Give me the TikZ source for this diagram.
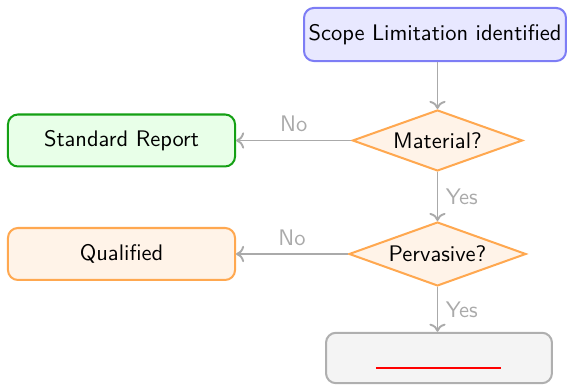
\documentclass[tikz,border=0pt]{standalone}
\usetikzlibrary{shapes.geometric,arrows.meta}
\definecolor{bluefill}{RGB}{232,232,255}
\definecolor{blueline}{RGB}{125,125,245}
\definecolor{greenfill}{RGB}{232,255,232}
\definecolor{greenline}{RGB}{20,160,20}
\definecolor{orfill}{RGB}{255,243,232}
\definecolor{orline}{RGB}{255,168,80}
\definecolor{grfill}{RGB}{244,244,244}
\definecolor{grline}{RGB}{175,175,175}
\definecolor{edgecol}{RGB}{170,170,170}
\definecolor{redline}{RGB}{255,0,0}
\begin{document}
\begin{tikzpicture}[x=0.4444pt,y=-0.4444pt,font=\sffamily,
  boxnode/.style={draw, rounded corners=4.4pt, line width=0.9pt, align=center},
  decnode/.style={diamond, draw=orline, fill=orfill, line width=0.9pt, inner sep=0pt, aspect=2.8},
  conn/.style={draw=edgecol, line width=0.85pt, -{Computer Modern Rightarrow[length=3.6pt,width=7.2pt]}},
  elabel/.style={text=edgecol}]
\useasboundingbox (0,0) rectangle (572,385);
\node[boxnode, draw=blueline, fill=bluefill, inner xsep=1.5pt, minimum width=116.4pt, minimum height=23.6pt] (scope) at (435,34.5) {Scope Limitation identified};
\node[decnode, minimum width=75.6pt, minimum height=27.1pt] (mat) at (437.5,140.5) {Material?};
\node[boxnode, draw=greenline, fill=greenfill, minimum width=100.9pt, minimum height=23.1pt] (std) at (121.5,140.5) {Standard Report};
\node[decnode, minimum width=78.7pt, minimum height=28.4pt] (perv) at (437.5,254) {Pervasive?};
\node[boxnode, draw=orline, fill=orfill, minimum width=100.9pt, minimum height=23.1pt] (qual) at (121.5,254) {Qualified};
\node[boxnode, draw=grline, fill=grfill, minimum width=100.4pt, minimum height=22.4pt] (res) at (439,358) {};
\draw[redline, line width=0.6pt] ([shift={(-63,10)}]res.center) -- ([shift={(62,10)}]res.center);
\draw[conn] (scope.south -| mat.north) -- (mat.north);
\draw[conn] (mat) -- node[elabel, above] {No} (std);
\draw[conn] (mat) -- node[elabel, right] {Yes} (perv);
\draw[conn] (perv) -- node[elabel, above] {No} (qual);
\draw[conn] (perv.south) -- node[elabel, right] {Yes} (res.north -| perv.south);
\end{tikzpicture}
\end{document}
